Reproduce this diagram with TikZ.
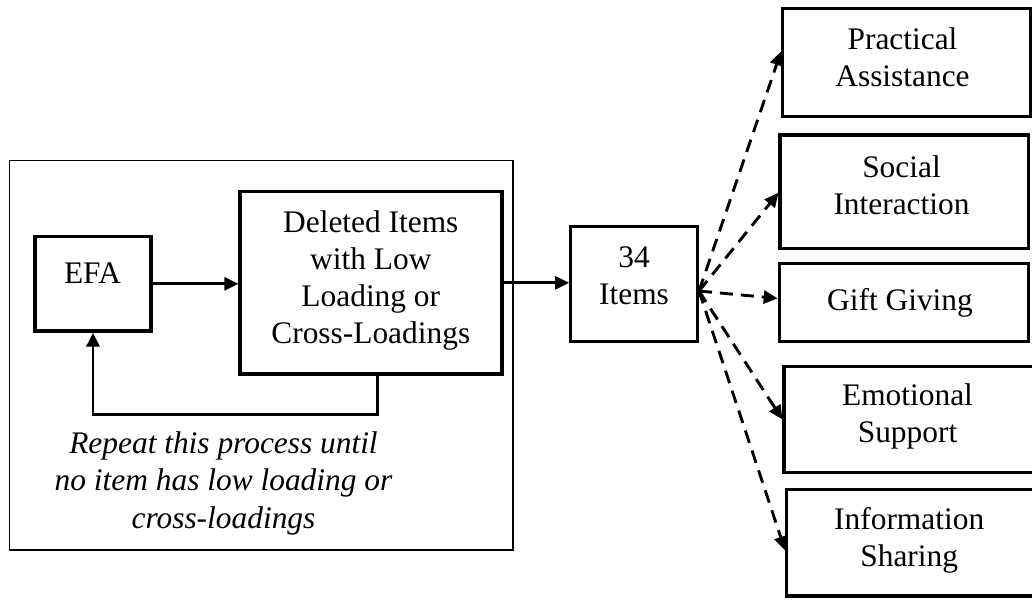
\documentclass[tikz,border=0pt]{standalone}
\usepackage{fontspec}
\setmainfont{Liberation Serif}
\usetikzlibrary{arrows.meta,calc}
\begin{document}
\begin{tikzpicture}[x=0.5pt,y=-0.5pt,
  box/.style={draw, line width=1.6pt, inner sep=0pt},
  frame/.style={draw, line width=0.7pt, inner sep=0pt},
  txt/.style={font=\fontsize{15.7}{18.5}\selectfont, align=center, anchor=north, inner sep=0pt},
  note/.style={font=\fontsize{15.7}{18.7}\selectfont\itshape, align=center, anchor=north, inner sep=0pt},
  arr/.style={-{Triangle[length=7pt,width=6.5pt]}, line width=1.45pt},
  dasharr/.style={arr, dash pattern=on 6.5pt off 4pt}]
\useasboundingbox (0,0) rectangle (1032,599);

% iterative EFA loop, enclosed in a thin frame
\node[frame, minimum width=251.85pt, minimum height=194.65pt] (loop) at (261.15,355.35) {};
\node[box, minimum width=58pt, minimum height=47.2pt] (efa) at (93,283.8) {};
\node[txt] (efaT) at (92.5,262) {EFA};
\node[box, minimum width=131pt, minimum height=91.2pt] (del) at (371,282.8) {};
\node[txt] (delT) at (370.8,210.5) {Deleted Items\\with Low\\Loading or\\Cross-Loadings};
\node[note] (noteT) at (223.5,431.3) {Repeat this process until\\no item has low loading or\\cross-loadings};

% retained items
\node[box, minimum width=63.3pt, minimum height=57.5pt] (items) at (634,284.2) {};
\node[txt] (itemsT) at (634,246.5) {34\\Items};

% extracted factors
\node[box, minimum width=124pt, minimum height=54.2pt] (prac) at (906.7,62.5) {};
\node[txt] (pracT) at (902.5,27) {Practical\\Assistance};
\node[box, minimum width=124.2pt, minimum height=56.7pt] (soc) at (904.2,191.7) {};
\node[txt] (socT) at (901.5,155.3) {Social\\Interaction};
\node[box, minimum width=124.5pt, minimum height=39.2pt] (gift) at (903.8,302.5) {};
\node[txt] (giftT) at (900,288) {Gift Giving};
\node[box, minimum width=125pt, minimum height=53.3pt] (emo) at (909,419.4) {};
\node[txt] (emoT) at (907.5,383.6) {Emotional\\Support};
\node[box, minimum width=123.7pt, minimum height=53.3pt] (info) at (910.4,542.7) {};
\node[txt] (infoT) at (909.2,507) {Information\\Sharing};

% solid flow
\draw[arr] (efa.east) -- (efa.east -| del.west);
\draw[arr] (del.east) -- (del.east -| items.west);
\coordinate (fb) at (377.7,414.3);
\draw[arr] (del.south -| fb) -- (fb) -- (fb -| efa.south) -- (efa.south);

% dashed links to the factors
\coordinate (hub) at (699,291);
\draw[dasharr] (hub) -- ($(prac.north west)!0.4!(prac.south west)$);
\draw[dasharr] (hub) -- ($(soc.north west)!0.51!(soc.south west)$);
\draw[dasharr] (hub) -- ($(gift.north west)!0.45!(gift.south west)$);
\draw[dasharr] (hub) -- (emo.west);
\draw[dasharr] (hub) -- ($(info.north west)!0.57!(info.south west)$);
\end{tikzpicture}
\end{document}
